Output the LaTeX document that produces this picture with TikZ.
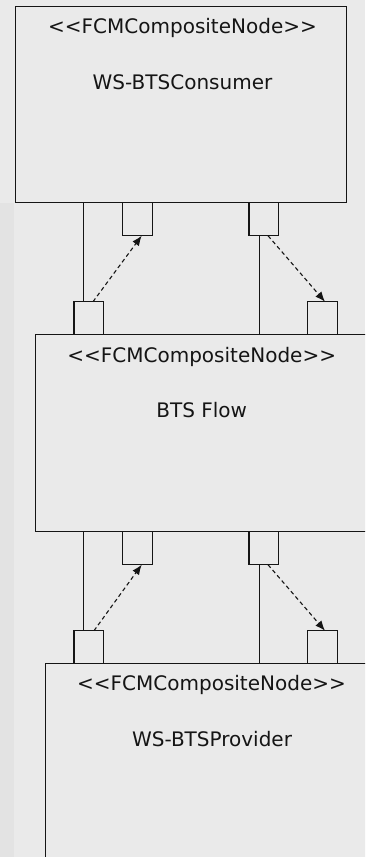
\documentclass[tikz,border=0pt]{standalone}
\usepackage{fontspec}
\setmainfont[Ligatures=NoCommon]{DejaVu Sans}
\usetikzlibrary{arrows.meta}
\definecolor{bgmain}{HTML}{EAEAEA}
\definecolor{bgstrip}{HTML}{E3E3E3}
\definecolor{ink}{HTML}{151515}
\newcommand{\stereotxt}{<{}<FCMCompositeNode>{}>}
\begin{document}
\begin{tikzpicture}[x=1pt,y=-1pt,
  compbox/.style={draw=ink,line width=1.4pt,fill=bgmain,anchor=north west,inner sep=0pt,outer sep=0pt},
  portbox/.style={draw=ink,line width=1.2pt,fill=bgmain,anchor=north west,inner sep=0pt,outer sep=0pt,minimum width=29.5pt,minimum height=33pt},
  stereo/.style={font=\fontsize{20}{22}\selectfont,text=ink,inner sep=0pt},
  wire/.style={draw=ink,line width=1.1pt},
  flow/.style={draw=ink,line width=1.1pt,dash pattern=on 4pt off 3pt,-{Latex[length=10pt,width=8pt]}}]
\clip (0,0) rectangle (365,857);
\fill[bgmain] (0,0) rectangle (365,857);
\fill[bgstrip] (0,203) rectangle (14,857);
% boxes
\node[compbox,minimum width=331pt,minimum height=196pt] (cons) at (15.7,6.7) {};
\node[compbox,minimum width=332pt,minimum height=197.4pt] (bts) at (35.7,334.3) {};
\node[compbox,minimum width=332pt,minimum height=220pt] (prov) at (45.7,663.3) {};
% ports
\node[portbox] (p1) at (122.7,202.7) {};
\node[portbox] (p2) at (249,202.7) {};
\node[portbox,minimum height=32.6pt] (p3) at (74,301.7) {};
\node[portbox,minimum height=32.6pt] (p4) at (307.7,301.7) {};
\node[portbox] (p5) at (122.7,531.7) {};
\node[portbox] (p6) at (249,531.7) {};
\node[portbox,minimum height=32.6pt] (p7) at (74,630.7) {};
\node[portbox,minimum height=32.6pt] (p8) at (307.7,630.7) {};
% texts
\node[stereo] (cons1) at (182.5,28) {\stereotxt};
\node[stereo] (cons2) at (182.5,82.7) {WS-BTSConsumer};
\node[stereo] (bts1) at (201.7,357.3) {\stereotxt};
\node[stereo] (bts2) at (201.7,410) {BTS Flow};
\node[stereo] (prov1) at (211.5,685) {\stereotxt};
\node[stereo] (prov2) at (212,739.3) {WS-BTSProvider};
% wires
\draw[wire] ([xshift=9.3pt]p3.north west) -- ([xshift=9.3pt]p3.north west |- cons.south);
\draw[wire] ([xshift=10.3pt]p2.south west) -- ([xshift=10.3pt]p2.south west |- bts.north);
\draw[wire] ([xshift=9.3pt]p7.north west) -- ([xshift=9.3pt]p7.north west |- bts.south);
\draw[wire] ([xshift=10.3pt]p6.south west) -- ([xshift=10.3pt]p6.south west |- prov.north);
% flows
\draw[flow] ([xshift=19pt]p3.north west) -- ([xshift=19pt]p1.south west);
\draw[flow] ([xshift=19pt]p2.south west) -- ([xshift=17.3pt]p4.north west);
\draw[flow] ([xshift=20pt]p7.north west) -- ([xshift=19pt]p5.south west);
\draw[flow] ([xshift=19pt]p6.south west) -- ([xshift=17.3pt]p8.north west);
\end{tikzpicture}
\end{document}
